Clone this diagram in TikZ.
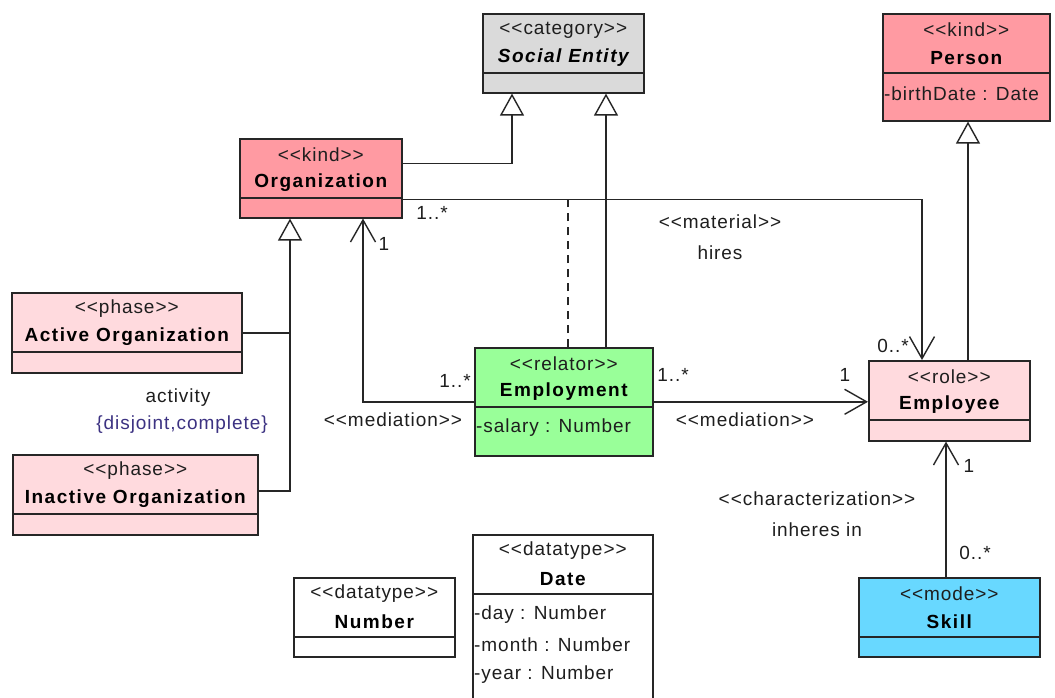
\documentclass[tikz,border=0pt]{standalone}
\usepackage{fontspec}
\setmainfont{Liberation Sans}[Ligatures=TeXOff, LetterSpace=5,
  BoldFeatures={LetterSpace=8}, BoldItalicFeatures={LetterSpace=8}]
\usetikzlibrary{arrows.meta}

\definecolor{categoryfill}{RGB}{218,218,218}
\definecolor{kindfill}{RGB}{255,154,162}
\definecolor{phasefill}{RGB}{255,218,222}
\definecolor{relatorfill}{RGB}{153,255,153}
\definecolor{modefill}{RGB}{104,216,255}
\definecolor{labelgray}{RGB}{30,30,30}
\definecolor{constraintblue}{RGB}{60,50,130}

\tikzset{
  txt/.style={font=\fontsize{19pt}{22pt}\selectfont, inner sep=0pt, text=labelgray},
  classbox/.style={draw=black!85, line width=1.6pt, inner sep=0pt, anchor=north west},
  classline/.style={draw=black!85, line width=1.6pt},
  stereo/.style={txt},
  title/.style={txt, text=black, font=\fontsize{19pt}{22pt}\selectfont\bfseries},
  attrtext/.style={txt, anchor=west},
  gen/.style={draw=black!85, line width=1.4pt,
    -{Triangle[length=22pt, width=24pt, fill=white, line width=1.4pt]}},
  assoc/.style={draw=black!85, line width=1.4pt,
    -{Straight Barb[length=22pt, width=25pt, line width=1.4pt]}},
  deriv/.style={draw=black!85, line width=1.4pt, dash pattern=on 8pt off 6pt},
}

% class box: name, left, top, right, bottom, fill, stereotype, title, attributes
\newcommand\umlclass[9]{%
  \node[classbox, fill=#6, minimum width={#4-#2}, minimum height={#5-#3}] (#1) at (#2,#3) {};
  \draw[classline] ([yshift=-60pt]#1.north west) -- ([yshift=-60pt]#1.north east);
  \node[stereo] (#1-st) at ([yshift=-17pt]#1.north) {<<#7>>};
  \node[title] (#1-nm) at ([yshift=-45pt]#1.north) {#8};
  #9%
}
% attribute line: class name, index, text
\newcommand\umlattr[3]{%
  \node[attrtext] (#1-a#2) at ([xshift=2pt, yshift={-51pt-#2*30pt}]#1.north west) {#3};%
}

\begin{document}
\begin{tikzpicture}[x=1pt, y=-1pt]
\clip (0,0) rectangle (1055,698);
\fill[white] (0,0) rectangle (1055,698);

% classes
\umlclass{social}{482}{13}{643}{92}{categoryfill}{category}{\itshape Social Entity}{}
\umlclass{person}{882}{13}{1049}{120}{kindfill}{kind}{Person}{\umlattr{person}{1}{-birthDate : Date}}
\umlclass{org}{239}{138}{401}{217}{kindfill}{kind}{Organization}{}
\umlclass{active}{11}{292}{241}{372}{phasefill}{phase}{Active Organization}{}
\umlclass{inactive}{12}{454}{257}{534}{phasefill}{phase}{Inactive Organization}{}
\umlclass{employment}{474}{347}{652}{455}{relatorfill}{relator}{Employment}{\umlattr{employment}{1}{-salary : Number}}
\umlclass{employee}{868}{360}{1029}{440}{phasefill}{role}{Employee}{}
\umlclass{skill}{858}{577}{1039}{656}{modefill}{mode}{Skill}{}
\umlclass{number}{293}{577}{454}{656}{white}{datatype}{Number}{}
\umlclass{date}{472}{534}{652}{712}{white}{datatype}{Date}{%
  \umlattr{date}{1}{-day : Number}\umlattr{date}{2}{-month : Number}\umlattr{date}{3}{-year : Number}}

% generalizations
\draw[gen] ([yshift=15pt]org.east) -| ([xshift=30pt]social.south west);
\coordinate (emplTopR) at ([xshift=132pt]employment.north west);
\draw[gen] (emplTopR) -- (emplTopR |- social.south);
\coordinate (orgGen) at ([xshift=51pt]org.south west);
\draw[classline] (active.east) -- (active.east -| orgGen);
\draw[gen] ([yshift=4pt]inactive.east) -| (orgGen);
\coordinate (empGen) at ([xshift=100pt]employee.north west);
\draw[gen] (empGen) -- (empGen |- person.south);

% material relation "hires" and its derivation from the relator
\coordinate (hiresStart) at ([yshift=19pt]org.south east);
\draw[assoc] (hiresStart) -| ([xshift=54pt]employee.north west);
\coordinate (emplTopL) at ([xshift=94pt]employment.north west);
\draw[deriv] (emplTopL) -- (emplTopL |- hiresStart);

% mediations
\draw[assoc] (employment.west) -| ([xshift=124pt]org.south west);
\draw[assoc] (employment.east) -- (employment.east -| employee.west);

% characterization
\coordinate (skillTop) at ([xshift=88pt]skill.north west);
\draw[assoc] (skillTop) -- (skillTop |- employee.south);

% association labels
\node[txt] (lMatSt) at (720,222) {<<material>>};
\node[txt] (lMatNm) at (720,253) {hires};
\node[txt] (lHiresA) at (432,213) {1..*};
\node[txt] (lHiresB) at (893,346) {0..*};
\node[txt] (lMedOrg) at (384,244) {1};
\node[txt] (lMedOrgE) at (455,381) {1..*};
\node[txt] (lMedL) at (393,420) {<<mediation>>};
\node[txt] (lMedEmpE) at (673,375) {1..*};
\node[txt] (lMedEmp) at (845,375) {1};
\node[txt] (lMedR) at (745,420) {<<mediation>>};
\node[txt] (lCharEmp) at (969,466) {1};
\node[txt] (lCharSkill) at (975,553) {0..*};
\node[txt] (lCharSt) at (817,499) {<<characterization>>};
\node[txt] (lCharNm) at (817,530) {inheres in};
\node[txt] (lGenSet) at (178,398) {activity};
\node[txt, text=constraintblue] (lGenCons) at (182,425) {\{disjoint,complete\}};
\end{tikzpicture}
\end{document}
